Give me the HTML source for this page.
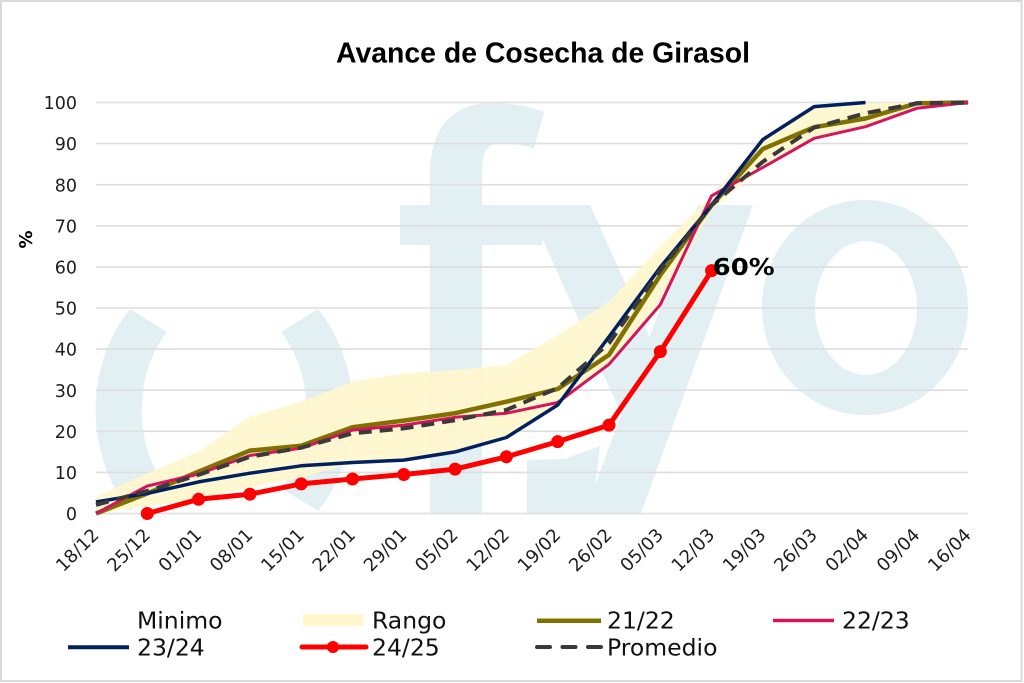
<!DOCTYPE html>
<html>
<head>
<meta charset="utf-8">
<style>
  html,body{margin:0;padding:0;background:#fff;}
  svg{display:block;}
  .ax{font-family:"DejaVu Sans","Liberation Sans",sans-serif;font-size:17.5px;fill:#1e1e1e;}
  .axx{font-family:"DejaVu Sans","Liberation Sans",sans-serif;font-size:18px;fill:#1e1e1e;}
  .lg{font-family:"DejaVu Sans","Liberation Sans",sans-serif;font-size:23.5px;fill:#111;}
</style>
</head>
<body>
<svg width="1024" height="683" viewBox="0 0 1024 683" xmlns="http://www.w3.org/2000/svg">
  <rect x="0" y="0" width="1024" height="683" fill="#ffffff"/>
  <rect x="1" y="1" width="1020.5" height="680" fill="none" stroke="#d9d9d9" stroke-width="2"/>

  <!-- watermark -->
  <g fill="#e2f0f4">
    <path d="M130,309 A128,148 0 0 0 130,511 L167,488 A82,108 0 0 1 167,332 Z"/>
    <path d="M318,309 A128,148 0 0 1 318,511 L281,488 A82,108 0 0 0 281,332 Z"/>
    <path d="M430,513 L430,175 C430,125 455,103 492,103 C515,103 532,107 544,112 L534,149 C524,145 512,143 500,143 C488,143 482,152 482,170 L482,513 Z"/>
    <rect x="400" y="205" width="142" height="40"/>
    <polygon points="527,205 590,205 680,405 652,482"/>
    <polygon points="698,205 753,205 641,513 585,513"/>
    <polygon points="527,460 565,459 600,446 592,513 527,513"/>
    <path fill-rule="evenodd" d="M762,307.5 A103,107.5 0 1 0 968,307.5 A103,107.5 0 1 0 762,307.5 Z M815,308 A51,67 0 1 1 917,308 A51,67 0 1 1 815,308 Z"/>
  </g>

  <!-- gridlines -->
  <g stroke="#dedede" stroke-width="1.6">
    <line x1="96" y1="102.5" x2="968" y2="102.5"/>
    <line x1="96" y1="143.6" x2="968" y2="143.6"/>
    <line x1="96" y1="184.7" x2="968" y2="184.7"/>
    <line x1="96" y1="225.8" x2="968" y2="225.8"/>
    <line x1="96" y1="266.9" x2="968" y2="266.9"/>
    <line x1="96" y1="308.0" x2="968" y2="308.0"/>
    <line x1="96" y1="349.1" x2="968" y2="349.1"/>
    <line x1="96" y1="390.2" x2="968" y2="390.2"/>
    <line x1="96" y1="431.3" x2="968" y2="431.3"/>
    <line x1="96" y1="472.4" x2="968" y2="472.4"/>
    <line x1="96" y1="513.5" x2="968" y2="513.5"/>
  </g>

  <!-- Rango band -->
  <polygon fill="#fff6cc" fill-opacity="0.92" points="
    96,496.6 147.3,473.2 198.6,451.9 249.9,416.5 301.2,401.7 352.5,381.6 403.8,373.4 455.1,370.1 506.4,365.1 557.7,335.1 609,301.8 660.3,246.4 711.6,195.0 762.9,139.5 814.2,106.6 865.5,102.5 916.8,102.5 968.1,102.5
    968.1,102.5 916.8,108.3 865.5,126.7 814.2,138.3 762.9,167.4 711.6,209.4 660.3,304.7 609,364.3 557.7,405.0 506.4,437.5 455.1,451.9 403.8,460.1 352.5,463.4 301.2,477.3 249.9,487.6 198.6,498.7 147.3,506.1 96,513.5"/>

  <g fill="none" stroke-linejoin="round" stroke-linecap="butt">
    <polyline stroke="#7f7000" stroke-width="4.5" points="96,513.5 147.3,493.4 198.6,471.6 249.9,450.6 301.2,445.7 352.5,427.2 403.8,420.6 455.1,413.2 506.4,401.7 557.7,389.0 609,354.9 660.3,275.1 711.6,205.2 762.9,148.9 814.2,127.2 865.5,118.5 916.8,103.3 968.1,102.5"/>
    <polyline stroke="#d2155c" stroke-width="3" points="96,513.5 147.3,486.0 198.6,474.0 249.9,455.5 301.2,448.2 352.5,430.1 403.8,425.1 455.1,417.3 506.4,413.2 557.7,402.5 609,364.3 660.3,304.7 711.6,195.8 762.9,167.4 814.2,138.3 865.5,126.7 916.8,108.3 968.1,102.5"/>
    <polyline stroke="#002060" stroke-width="3.5" points="96,502.0 147.3,493.4 198.6,481.9 249.9,473.2 301.2,465.8 352.5,462.5 403.8,460.1 455.1,451.9 506.4,437.5 557.7,405.0 609,336.8 660.3,267.3 711.6,205.2 762.9,139.5 814.2,106.6 865.5,102.5"/>
    <polyline stroke="#ff0000" stroke-width="5" points="147.3,513.5 198.6,499.3 249.9,494.2 301.2,483.9 352.5,479.0 403.8,474.5 455.1,469.1 506.4,456.8 557.7,441.6 609,425.1 660.3,351.6 711.6,270.6"/>
    <polyline stroke="#3a3a3a" stroke-width="4" stroke-dasharray="13 8" points="96,504.9 147.3,490.9 198.6,474.9 249.9,456.8 301.2,447.7 352.5,433.4 403.8,428.4 455.1,420.2 506.4,409.9 557.7,388.1 609,343.3 660.3,270.2 711.6,205.2 762.9,161.7 814.2,127.6 865.5,113.2 916.8,103.3 968.1,102.5"/>
  </g>
  <g fill="#ff0000">
    <circle cx="147.3" cy="513.5" r="6.5"/>
    <circle cx="198.6" cy="499.3" r="6.5"/>
    <circle cx="249.9" cy="494.2" r="6.5"/>
    <circle cx="301.2" cy="483.9" r="6.5"/>
    <circle cx="352.5" cy="479.0" r="6.5"/>
    <circle cx="403.8" cy="474.5" r="6.5"/>
    <circle cx="455.1" cy="469.1" r="6.5"/>
    <circle cx="506.4" cy="456.8" r="6.5"/>
    <circle cx="557.7" cy="441.6" r="6.5"/>
    <circle cx="609" cy="425.1" r="6.5"/>
    <circle cx="660.3" cy="351.6" r="6.5"/>
    <circle cx="711.6" cy="270.6" r="6.5"/>
  </g>
  <text x="712.7" y="275" font-family="DejaVu Sans, Liberation Sans, sans-serif" font-weight="bold" font-size="23" textLength="62" lengthAdjust="spacingAndGlyphs" fill="#000">60%</text>

  <text x="336" y="62.5" font-family="Liberation Sans, Arial, sans-serif" font-weight="bold" font-size="28.5" textLength="414" lengthAdjust="spacingAndGlyphs" fill="#000">Avance de Cosecha de Girasol</text>

  <g class="ax" text-anchor="end">
    <text x="77" y="109.1">100</text>
    <text x="77" y="150.2">90</text>
    <text x="77" y="191.3">80</text>
    <text x="77" y="232.4">70</text>
    <text x="77" y="273.5">60</text>
    <text x="77" y="314.6">50</text>
    <text x="77" y="355.7">40</text>
    <text x="77" y="396.8">30</text>
    <text x="77" y="437.9">20</text>
    <text x="77" y="479.0">10</text>
    <text x="77" y="520.1">0</text>
  </g>
  <text transform="translate(32,239.5) rotate(-90)" text-anchor="middle" font-family="DejaVu Sans, Liberation Sans, sans-serif" font-weight="bold" font-size="18" fill="#000">%</text>

  <g class="axx" text-anchor="end">
    <text transform="translate(100,536) rotate(-45)">18/12</text>
    <text transform="translate(151.3,536) rotate(-45)">25/12</text>
    <text transform="translate(202.6,536) rotate(-45)">01/01</text>
    <text transform="translate(253.9,536) rotate(-45)">08/01</text>
    <text transform="translate(305.2,536) rotate(-45)">15/01</text>
    <text transform="translate(356.5,536) rotate(-45)">22/01</text>
    <text transform="translate(407.8,536) rotate(-45)">29/01</text>
    <text transform="translate(459.1,536) rotate(-45)">05/02</text>
    <text transform="translate(510.4,536) rotate(-45)">12/02</text>
    <text transform="translate(561.7,536) rotate(-45)">19/02</text>
    <text transform="translate(613,536) rotate(-45)">26/02</text>
    <text transform="translate(664.3,536) rotate(-45)">05/03</text>
    <text transform="translate(715.6,536) rotate(-45)">12/03</text>
    <text transform="translate(766.9,536) rotate(-45)">19/03</text>
    <text transform="translate(818.2,536) rotate(-45)">26/03</text>
    <text transform="translate(869.5,536) rotate(-45)">02/04</text>
    <text transform="translate(920.8,536) rotate(-45)">09/04</text>
    <text transform="translate(972.1,536) rotate(-45)">16/04</text>
  </g>

  <rect x="303" y="614" width="60" height="12" fill="#fff6cc"/>
  <line x1="537" y1="620.7" x2="601" y2="620.7" stroke="#7f7000" stroke-width="4.5"/>
  <line x1="773" y1="620.5" x2="834" y2="620.5" stroke="#d2155c" stroke-width="3.5"/>
  <line x1="68" y1="647.3" x2="129" y2="647.3" stroke="#002060" stroke-width="4"/>
  <line x1="302" y1="647" x2="366" y2="647" stroke="#ff0000" stroke-width="5" stroke-linecap="round"/>
  <circle cx="333" cy="647" r="6" fill="#ff0000"/>
  <line x1="537" y1="647" x2="601" y2="647" stroke="#3a3a3a" stroke-width="4" stroke-dasharray="13 12.5" stroke-linecap="round"/>
  <g class="lg">
    <text x="137" y="628.3">Minimo</text>
    <text x="372" y="628.3">Rango</text>
    <text x="607" y="628.3">21/22</text>
    <text x="842" y="628.3">22/23</text>
    <text x="137" y="655.3">23/24</text>
    <text x="372" y="655.3">24/25</text>
    <text x="607" y="655.3">Promedio</text>
  </g>
</svg>
</body>
</html>
